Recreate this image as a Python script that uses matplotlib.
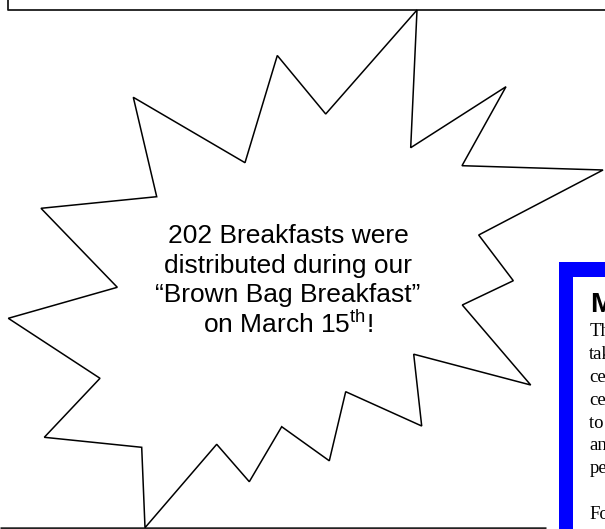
import matplotlib
matplotlib.use("Agg")
import matplotlib.pyplot as plt
from matplotlib.patches import Polygon, Rectangle

plt.rcParams['mathtext.fontset'] = 'custom'
plt.rcParams['mathtext.rm'] = 'Liberation Sans'

# starburst outline (pixel coords, y down)
burst_x = [417, 410.7, 506, 462, 603, 478.7, 513.3, 462.3, 530.7, 413.7, 421.7, 345.7, 329.3,
           281.7, 249.3, 216.7, 145, 141.7, 44.3, 100, 8.3, 117.3, 41, 156.7, 133.3, 245, 277.3, 325.7]
burst_y = [10, 147.7, 86.7, 165.7, 170, 235, 280.7, 305, 385, 354.2, 426, 391.7, 460.8,
           426.7, 481.7, 444.3, 527.7, 447.3, 437.3, 378.3, 318.3, 287.3, 208.3, 196.7, 97.3, 162.7, 55.5, 114]

burst_lines = ["202 Breakfasts were",
               "distributed during our",
               "\u201cBrown Bag Breakfast\u201d",
               "on March 15$^{\\mathrm{th}}$!"]

box_heading = "M"
box_lines = ["The", "take", "cen", "cer", "to t", "and", "per", "", "For"]

W, H = 605, 529
fig = plt.figure(figsize=(W / 100, H / 100), dpi=100)
ax = fig.add_axes([0, 0, 1, 1])
ax.set_xlim(0, W)
ax.set_ylim(H, 0)
ax.axis('off')

# frame line at top
ax.plot([7.5, 7.5, W + 5], [0, 9.5, 9.5], color='#1a1a1a', lw=1.3, solid_capstyle='butt')
# rule at bottom
ax.plot([0, 546], [527.8, 527.8], color='#222222', lw=1.8, solid_capstyle='butt')

burst = Polygon(list(zip(burst_x, burst_y)), closed=True, facecolor='white',
                edgecolor='black', lw=1.1, joinstyle='miter', zorder=3)
ax.add_patch(burst)

for i, line in enumerate(burst_lines):
    ax.text(288, 236 + i * 29.5, line, ha='center', va='center', fontsize=19,
            family='Liberation Sans', color='black', zorder=4)

# blue bordered box
ax.add_patch(Rectangle((558.5, 262), 80, 300, facecolor='#0000ff', edgecolor='none', zorder=2))
ax.add_patch(Rectangle((572.5, 276.5), 70, 300, facecolor='white', edgecolor='none', zorder=2))

ax.text(590.5, 312.5, box_heading, ha='left', va='baseline', fontsize=20.5,
        family='Liberation Sans', fontweight='bold', color='black', zorder=4)
for i, line in enumerate(box_lines):
    ax.text(589.3, 336.5 + i * 22.8, line, ha='left', va='baseline', fontsize=13.5,
            family='Liberation Serif', color='black', zorder=4)

fig.savefig('out.png', dpi=100)
